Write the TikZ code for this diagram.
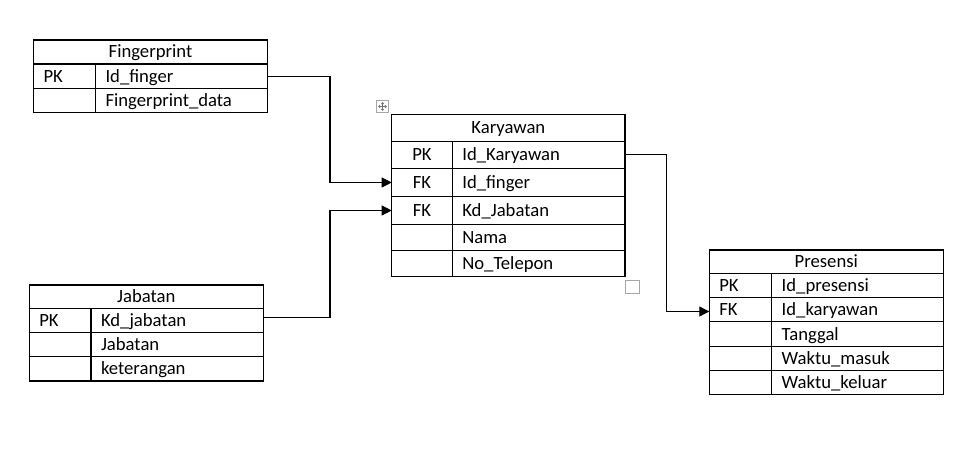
\documentclass[tikz,border=0pt]{standalone}
\usepackage{fontspec}
\setmainfont{Carlito}
\usetikzlibrary{arrows.meta}
\newcommand\ercell[7]{\node[cell,#6,text width={(#4-20)*0.75pt},minimum height={#5*0.75pt}] (#1) at (#2,#3) {#7};}
\begin{document}
\begin{tikzpicture}[x=0.75pt,y=-0.75pt,
  cell/.style={draw, line width=0.8pt, anchor=north west, inner ysep=0pt, inner xsep=7.5pt, outer sep=0pt, text height=9pt, text depth=0pt, font=\fontsize{14}{16}\selectfont},
  lft/.style={align=left},
  ctr/.style={align=center},
  arr/.style={line width=0.8pt, -{Triangle[length=7.5pt,width=7.5pt]}},
  handle/.style={draw=black!35, line width=0.6pt, fill=white}]
\useasboundingbox (0,0) rectangle (980,463);
% Fingerprint
\ercell{fp-t}{33.5}{40}{234}{24}{ctr}{Fingerprint}
\ercell{fp-k1}{33.5}{64}{62}{24.3}{lft}{PK}
\ercell{fp-f1}{95.5}{64}{172}{24.3}{lft}{Id\_finger}
\ercell{fp-k2}{33.5}{88.3}{62}{24}{lft}{}
\ercell{fp-f2}{95.5}{88.3}{172}{24}{lft}{Fingerprint\_data}
% Karyawan
\ercell{ky-t}{391.7}{114.3}{233.3}{27.4}{ctr}{Karyawan}
\ercell{ky-k1}{391.7}{141.7}{60.6}{26.6}{ctr}{PK}
\ercell{ky-f1}{452.3}{141.7}{172.7}{26.6}{lft}{Id\_Karyawan}
\ercell{ky-k2}{391.7}{168.3}{60.6}{28.4}{ctr}{FK}
\ercell{ky-f2}{452.3}{168.3}{172.7}{28.4}{lft}{Id\_finger}
\ercell{ky-k3}{391.7}{196.7}{60.6}{27.6}{ctr}{FK}
\ercell{ky-f3}{452.3}{196.7}{172.7}{27.6}{lft}{Kd\_Jabatan}
\ercell{ky-k4}{391.7}{224.3}{60.6}{26.4}{ctr}{}
\ercell{ky-f4}{452.3}{224.3}{172.7}{26.4}{lft}{Nama}
\ercell{ky-k5}{391.7}{250.7}{60.6}{26}{ctr}{}
\ercell{ky-f5}{452.3}{250.7}{172.7}{26}{lft}{No\_Telepon}
% Jabatan
\ercell{jb-t}{29.3}{285}{234}{23.3}{ctr}{Jabatan}
\ercell{jb-k1}{29.3}{308.3}{61.7}{24}{lft}{PK}
\ercell{jb-f1}{91}{308.3}{172.3}{24}{lft}{Kd\_jabatan}
\ercell{jb-k2}{29.3}{332.3}{61.7}{24.4}{lft}{}
\ercell{jb-f2}{91}{332.3}{172.3}{24.4}{lft}{Jabatan}
\ercell{jb-k3}{29.3}{356.7}{61.7}{24.3}{lft}{}
\ercell{jb-f3}{91}{356.7}{172.3}{24.3}{lft}{keterangan}
% Presensi
\ercell{pr-t}{709.3}{250}{234}{23.3}{ctr}{Presensi}
\ercell{pr-k1}{709.3}{273.3}{62.4}{24}{lft}{PK}
\ercell{pr-f1}{771.7}{273.3}{171.6}{24}{lft}{Id\_presensi}
\ercell{pr-k2}{709.3}{297.3}{62.4}{24.4}{lft}{FK}
\ercell{pr-f2}{771.7}{297.3}{171.6}{24.4}{lft}{Id\_karyawan}
\ercell{pr-k3}{709.3}{321.7}{62.4}{25}{lft}{}
\ercell{pr-f3}{771.7}{321.7}{171.6}{25}{lft}{Tanggal}
\ercell{pr-k4}{709.3}{346.7}{62.4}{24}{lft}{}
\ercell{pr-f4}{771.7}{346.7}{171.6}{24}{lft}{Waktu\_masuk}
\ercell{pr-k5}{709.3}{370.7}{62.4}{23.6}{lft}{}
\ercell{pr-f5}{771.7}{370.7}{171.6}{23.6}{lft}{Waktu\_keluar}
% handles
\node[handle, minimum size=9pt, inner sep=0pt] (movebox) at (382.5,106.5) {};
\draw[black!55, line width=0.5pt, -{Straight Barb[length=1.2pt,width=2pt]}] (movebox.center) -- ++(0,-4.5);
\draw[black!55, line width=0.5pt, -{Straight Barb[length=1.2pt,width=2pt]}] (movebox.center) -- ++(0,4.5);
\draw[black!55, line width=0.5pt, -{Straight Barb[length=1.2pt,width=2pt]}] (movebox.center) -- ++(-4.5,0);
\draw[black!55, line width=0.5pt, -{Straight Barb[length=1.2pt,width=2pt]}] (movebox.center) -- ++(4.5,0);
\node[handle, minimum size=10pt, inner sep=0pt] (sizebox) at (632.5,287) {};
% connectors
\coordinate (bendA) at (330,0);
\coordinate (bendB) at (666.5,0);
\draw[arr] (fp-f1.east) -| (bendA |- ky-k2.west) -- (ky-k2.west);
\draw[arr] ([yshift=2.25pt]jb-f1.east) -| (bendA |- ky-k3.west) -- (ky-k3.west);
\draw[arr] ([yshift=0.4pt]ky-f1.east) -| ([yshift=-1.5pt]bendB |- pr-k2.west) -- ([yshift=-1.5pt]pr-k2.west);
\end{tikzpicture}
\end{document}
